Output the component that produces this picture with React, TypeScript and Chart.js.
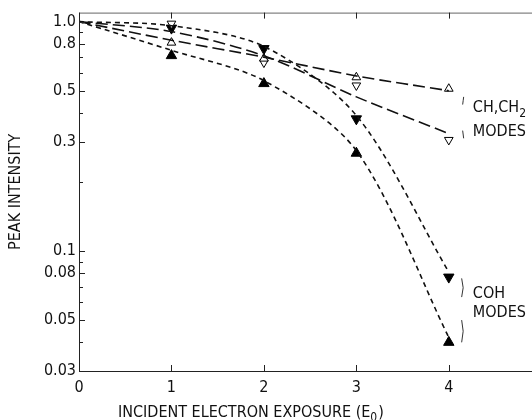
import React, { useEffect, useRef } from "react";
import { Chart, registerables } from "chart.js";

Chart.register(...registerables);

// ---- data ----
const curveX = [0, 1, 2, 3, 4];
const markX = [1, 2, 3, 4];

// hand-drawn dashed curves (value at each x)
const chOpenUpCurve = [1.0, 0.83, 0.7, 0.58, 0.5];
const chOpenDownCurve = [1.0, 0.905, 0.71, 0.47, 0.325];
const cohFilledDownCurve = [1.0, 0.96, 0.78, 0.39, 0.081];
const cohFilledUpCurve = [1.0, 0.75, 0.553, 0.274, 0.042];

// measured points
const chOpenUpPts = [0.81, 0.69, 0.572, 0.51];
const chOpenDownPts = [0.98, 0.663, 0.527, 0.305];
const cohFilledDownPts = [0.937, 0.763, 0.377, 0.077];
const cohFilledUpPts = [0.711, 0.537, 0.267, 0.04];

const yLabeledTicks = [0.03, 0.05, 0.08, 0.1, 0.3, 0.5, 0.8, 1.0];
const yLabelText = ["0.03", "0.05", "0.08", "0.1", "0.3", "0.5", "0.8", "1.0"];
const yMinorTicks = [0.04, 0.06, 0.07, 0.09, 0.2, 0.4, 0.6, 0.7, 0.9];
const xTicks = [0, 1, 2, 3, 4];
const xTickText = ["0", "1", "2", "3", "4"];

const FONT = '"Liberation Sans Narrow", "DejaVu Sans Condensed", "Liberation Sans", Arial, sans-serif';

const pts = (xs: number[], ys: number[]) => xs.map((x, i) => ({ x, y: ys[i] }));

const decor = {
  id: "decor",
  afterDraw(chart: any) {
    const { ctx, chartArea: a, scales } = chart;
    const xs = scales.x;
    const ys = scales.y;
    ctx.save();
    // top border
    ctx.strokeStyle = "#666";
    ctx.lineWidth = 1;
    ctx.beginPath();
    ctx.moveTo(a.left, a.top + 0.5);
    ctx.lineTo(a.right, a.top + 0.5);
    ctx.stroke();
    // axes
    ctx.strokeStyle = "#222";
    ctx.beginPath();
    ctx.moveTo(a.left + 0.5, a.top);
    ctx.lineTo(a.left + 0.5, a.bottom);
    ctx.moveTo(a.left, a.bottom + 0.5);
    ctx.lineTo(a.right, a.bottom + 0.5);
    ctx.stroke();
    // y ticks inward
    ctx.beginPath();
    yLabeledTicks.forEach((v) => {
      const py = Math.round(ys.getPixelForValue(v)) + 0.5;
      ctx.moveTo(a.left, py);
      ctx.lineTo(a.left + 6, py);
    });
    yMinorTicks.forEach((v) => {
      const py = Math.round(ys.getPixelForValue(v)) + 0.5;
      ctx.moveTo(a.left, py);
      ctx.lineTo(a.left + 4, py);
    });
    // x ticks inward (bottom and top)
    xTicks.slice(1).forEach((v) => {
      const px = Math.round(xs.getPixelForValue(v)) + 0.5;
      ctx.moveTo(px, a.bottom);
      ctx.lineTo(px, a.bottom - 6);
      ctx.moveTo(px, a.top);
      ctx.lineTo(px, a.top + 6);
    });
    ctx.stroke();

    // titles
    ctx.fillStyle = "#111";
    ctx.font = `16px ${FONT}`;
    ctx.textBaseline = "alphabetic";
    // y title
    ctx.save();
    ctx.translate(20, (a.top + a.bottom) / 2);
    ctx.rotate(-Math.PI / 2);
    ctx.textAlign = "center";
    ctx.fillText("PEAK INTENSITY", 0, 0);
    ctx.restore();
    // x title
    ctx.textAlign = "left";
    const t1 = "INCIDENT ELECTRON EXPOSURE (E";
    const bx = 118;
    const by = 417;
    ctx.fillText(t1, bx, by);
    let w = ctx.measureText(t1).width;
    ctx.font = `12px ${FONT}`;
    ctx.fillText("0", bx + w, by + 4);
    const w0 = ctx.measureText("0").width;
    ctx.font = `16px ${FONT}`;
    ctx.fillText(")", bx + w + w0 + 1, by);

    // annotations
    const tx = xs.getPixelForValue(4.26);
    const bkx = xs.getPixelForValue(4.15);
    // CH,CH2 MODES
    const chY = ys.getPixelForValue(0.405);
    ctx.fillText("CH,CH", tx, chY);
    w = ctx.measureText("CH,CH").width;
    ctx.font = `12px ${FONT}`;
    ctx.fillText("2", tx + w, chY + 5);
    ctx.font = `16px ${FONT}`;
    ctx.fillText("MODES", tx, ys.getPixelForValue(0.318));
    // COH MODES
    ctx.fillText("COH", tx, ys.getPixelForValue(0.0625));
    ctx.fillText("MODES", tx, ys.getPixelForValue(0.0515));

    // bracket strokes
    ctx.strokeStyle = "#333";
    ctx.lineWidth = 1;
    const seg = (v1: number, v2: number, dx1: number, dxm: number, dx2: number) => {
      const y1 = ys.getPixelForValue(v1);
      const y2 = ys.getPixelForValue(v2);
      ctx.beginPath();
      ctx.moveTo(bkx + dx1, y1);
      ctx.quadraticCurveTo(bkx + dxm, (y1 + y2) / 2, bkx + dx2, y2);
      ctx.stroke();
    };
    seg(0.47, 0.435, 1, 0.5, 0);
    seg(0.335, 0.31, 0, 0.5, 1);
    seg(0.076, 0.063, -1, 2, -1);
    seg(0.05, 0.04, -1, 2, -1);
    ctx.restore();
  },
};

export default function App() {
  const ref = useRef<HTMLCanvasElement | null>(null);
  useEffect(() => {
    if (!ref.current) return;
    const lineDs = (data: number[], dash: number[]) => ({
      type: "line" as const,
      data: pts(curveX, data),
      borderColor: "#111",
      borderWidth: 1.6,
      borderDash: dash,
      pointRadius: 0,
      fill: false,
      tension: 0.3,
    });
    const markDs = (data: number[], filled: boolean, down: boolean) => ({
      type: "line" as const,
      data: pts(markX, data),
      showLine: false,
      pointStyle: "triangle",
      pointRotation: down ? 180 : 0,
      pointRadius: filled ? 6 : 5,
      pointBackgroundColor: filled ? "#000" : "#fff",
      pointBorderColor: "#000",
      pointBorderWidth: 1,
    });
    const chart = new Chart(ref.current, {
      type: "line",
      data: {
        datasets: [
          lineDs(chOpenUpCurve, [12, 5]),
          lineDs(chOpenDownCurve, [12, 5]),
          lineDs(cohFilledDownCurve, [5, 4]),
          lineDs(cohFilledUpCurve, [5, 4]),
          markDs(chOpenUpPts, false, false),
          markDs(chOpenDownPts, false, true),
          markDs(cohFilledDownPts, true, true),
          markDs(cohFilledUpPts, true, false),
        ] as any,
      },
      options: {
        animation: false,
        responsive: false,
        devicePixelRatio: 1,
        layout: { autoPadding: false, padding: { top: 12, left: 0, right: 0, bottom: 0 } },
        plugins: { legend: { display: false }, tooltip: { enabled: false } },
        scales: {
          x: {
            type: "linear",
            min: 0,
            max: 4.9,
            grid: { display: false, drawTicks: false },
            border: { display: false },
            afterBuildTicks: (s: any) => {
              s.ticks = xTicks.map((v) => ({ value: v }));
            },
            afterFit: (s: any) => {
              s.height = 49;
            },
            ticks: {
              autoSkip: false,
              maxRotation: 0,
              padding: 7,
              color: "#111",
              font: { family: FONT, size: 16 },
              callback: (v: any) => {
                const i = xTicks.indexOf(Number(v));
                return i >= 0 ? xTickText[i] : "";
              },
            },
          },
          y: {
            type: "logarithmic",
            min: 0.03,
            max: 1.095,
            grid: { display: false, drawTicks: false },
            border: { display: false },
            afterBuildTicks: (s: any) => {
              s.ticks = yLabeledTicks.map((v) => ({ value: v }));
            },
            afterFit: (s: any) => {
              s.width = 79;
            },
            ticks: {
              autoSkip: false,
              padding: 3,
              color: "#111",
              font: { family: FONT, size: 16 },
              callback: (v: any) => {
                const i = yLabeledTicks.indexOf(Number(v));
                return i >= 0 ? yLabelText[i] : "";
              },
            },
          },
        },
      },
      plugins: [decor],
    });
    return () => chart.destroy();
  }, []);
  return (
    <div style={{ position: "fixed", left: 0, top: 0, width: 532, height: 420, background: "#fff" }}>
      <canvas ref={ref} width={532} height={420} style={{ display: "block", width: 532, height: 420 }} />
    </div>
  );
}
